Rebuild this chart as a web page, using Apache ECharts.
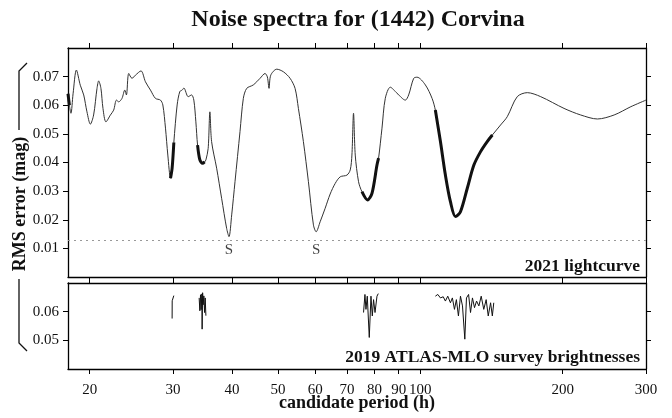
<!DOCTYPE html>
<html><head><meta charset="utf-8">
<script src="https://cdn.jsdelivr.net/npm/echarts@6/dist/echarts.min.js"></script>
<style>html,body{margin:0;padding:0;background:#fff}#c{width:672px;height:418px}</style>
</head><body><div id="c"></div>
<script>
// ---- data ----
const xTickLabels = [20, 30, 40, 50, 60, 70, 80, 90, 100, 200, 300];
const yTicksTop = [0.01, 0.02, 0.03, 0.04, 0.05, 0.06, 0.07];
const yTicksBottom = [0.05, 0.06];
const threshold = 0.013;
const sMarks = [39.41, 60.23];
// [period (h), RMS error (mag)]
const lightcurve2021 = [
  [18.0,0.0640],[18.12,0.0600],[18.26,0.0572],[18.45,0.0640],[18.75,0.0723],[19.11,0.0670],[19.43,0.0636],
  [19.74,0.0577],[20.07,0.0534],[20.39,0.0566],[20.73,0.0659],[20.90,0.0685],[21.13,0.0659],[21.34,0.0589],
  [21.65,0.0542],[22.13,0.0566],[22.48,0.0583],[22.79,0.0618],[23.04,0.0612],[23.41,0.0624],[23.73,0.0653],
  [23.92,0.0636],[24.19,0.0711],[24.58,0.0694],[24.99,0.0705],[25.68,0.0720],[26.24,0.0682],[26.89,0.0653],
  [27.55,0.0624],[28.23,0.0618],[28.56,0.0601],[28.93,0.0520],[29.26,0.0426],[29.65,0.0345],[29.88,0.0380],
  [30.13,0.0470],[30.62,0.0601],[31.02,0.0648],[31.37,0.0653],[31.64,0.0660],[32.31,0.0630],[32.85,0.0636],
  [33.21,0.0618],[33.54,0.0542],[33.82,0.0461],[34.20,0.0409],[34.66,0.0397],[35.0,0.0402],[35.22,0.0409],
  [35.61,0.0449],[35.91,0.0577],[36.21,0.0473],[37.11,0.0380],[38.02,0.0275],[38.96,0.0170],[39.41,0.0141],
  [39.93,0.0217],[40.58,0.0333],[41.58,0.0508],[42.26,0.0624],[42.96,0.0659],[44.36,0.0671],[45.84,0.0694],
  [46.97,0.0711],[47.50,0.0699],[47.89,0.0659],[48.29,0.0705],[49.73,0.0726],[51.35,0.0717],[53.06,0.0694],
  [54.36,0.0659],[55.25,0.0589],[56.61,0.0473],[58.01,0.0333],[59.44,0.0182],[60.23,0.0158],[61.42,0.0193],
  [62.93,0.0240],[64.49,0.0290],[66.09,0.0327],[67.72,0.0350],[69.98,0.0356],[71.10,0.0374],[71.69,0.0426],
  [72.25,0.0572],[72.86,0.0426],[74.04,0.0333],[75.28,0.0298],[77.36,0.0269],[79.04,0.0292],[80.99,0.0391],
  [81.62,0.0415],[82.99,0.0520],[84.33,0.0624],[86.42,0.0663],[89.29,0.0642],[92.98,0.0618],[94.49,0.0636],
  [96.83,0.0694],[98.44,0.0698],[102.5,0.0671],[105.9,0.0624],[107.6,0.0583],[110.3,0.0473],[113.0,0.0356],
  [115.8,0.0263],[118.7,0.0211],[121.6,0.0228],[125.7,0.0310],[129.8,0.0391],[134.1,0.0438],[138.5,0.0473],
  [142.0,0.0496],[147.8,0.0531],[152.7,0.0560],[160.3,0.0630],[168.4,0.0644],[179.7,0.0630],[201.3,0.0589],
  [218.3,0.0566],[236.8,0.0552],[256.9,0.0566],[278.7,0.0595],[300,0.0618]
];
const boldRanges = [[18.0,18.12],[29.65,30.13],[33.82,35.0],[75.28,81.62],[107.6,142.0]];
const atlas2019 = [
  [[29.88,0.0576],[29.89,0.0638],[30.05,0.0643],[30.13,0.0656]],
  [[34.08,0.0648],[34.20,0.0603],[34.31,0.0659],[34.41,0.0607],[34.53,0.0662],[34.58,0.0539],[34.66,0.0666],
   [34.75,0.0624],[34.87,0.0655],[34.99,0.0597],[35.10,0.0648],[35.22,0.0586]],
  [[75.86,0.0597],[76.38,0.0660],[76.76,0.0608],[77.25,0.0654],[78.01,0.0510],[78.66,0.0654],[79.17,0.0585],
   [79.66,0.0642],[80.22,0.0597],[80.99,0.0654],[81.51,0.0663]],
  [[107.6,0.0654],[108.9,0.0660],[110.3,0.0648],[111.8,0.0652],[113.0,0.0637],[114.3,0.0654],[115.8,0.0631],
   [116.9,0.0648],[118.1,0.0608],[119.2,0.0642],[120.4,0.0585],[121.6,0.0654],[122.8,0.0620],[124.2,0.0504],
   [125.2,0.0648],[126.5,0.0660],[127.7,0.0597],[128.9,0.0648],[130.2,0.0614],[131.5,0.0637],[133.0,0.0620],
   [134.5,0.0654],[136.2,0.0608],[137.8,0.0642],[139.2,0.0585],[140.8,0.0631],[142.0,0.0585],[143.0,0.0631]]
];

// ---- chart ----
const L = Math.log10;
const F = "'Liberation Serif','Times New Roman',serif";
const toXY = d => [L(d[0]), d[1]];

function xAxis(grid, pos, labels) {
  return {
    type: 'value', gridIndex: grid, position: pos, min: L(18), max: L(300),
    axisLine: { show: true, onZero: false, lineStyle: { color: '#000', width: 1.3 } },
    axisTick: { show: true, inside: false, length: 5, customValues: xTickLabels.map(L), lineStyle: { color: '#000', width: 1 } },
    axisLabel: { show: labels, customValues: xTickLabels.map(L), formatter: v => String(Math.round(Math.pow(10, v))),
      fontFamily: F, fontSize: 15, color: '#111', margin: 14 },
    splitLine: { show: false }
  };
}
function yAxis(grid, pos, min, max, ticks, labels) {
  return {
    type: 'value', gridIndex: grid, position: pos, min: min, max: max,
    axisLine: { show: true, onZero: false, lineStyle: { color: '#000', width: 1.3 } },
    axisTick: { show: true, inside: false, length: 5, customValues: ticks, lineStyle: { color: '#000', width: 1 } },
    axisLabel: { show: labels, customValues: ticks, formatter: v => v.toFixed(2),
      fontFamily: F, fontSize: 15, color: '#111', margin: 9 },
    splitLine: { show: false }
  };
}

const series = [];
series.push({
  type: 'line', xAxisIndex: 0, yAxisIndex: 0, data: lightcurve2021.map(toXY),
  showSymbol: false, smooth: 0.3, lineStyle: { color: '#333', width: 1 }, z: 3,
  markLine: { silent: true, precision: 4, symbol: ['none', 'none'], label: { show: false },
    lineStyle: { color: '#999', width: 1, type: [2, 4] }, data: [{ yAxis: threshold }] }
});
boldRanges.forEach(r => {
  series.push({
    type: 'line', xAxisIndex: 0, yAxisIndex: 0,
    data: lightcurve2021.filter(d => d[0] >= r[0] - 1e-6 && d[0] <= r[1] + 1e-6).map(toXY),
    showSymbol: false, smooth: 0.3, lineStyle: { color: '#111', width: 3 }, z: 4
  });
});
series.push({
  type: 'scatter', xAxisIndex: 0, yAxisIndex: 0, symbolSize: 0,
  data: sMarks.map(p => [L(p), 0.0094]),
  label: { show: true, position: 'inside', formatter: 'S', fontFamily: F, fontSize: 15, color: '#111' }, z: 5
});
atlas2019.forEach(seg => {
  series.push({
    type: 'line', xAxisIndex: 2, yAxisIndex: 2, data: seg.map(toXY),
    showSymbol: false, lineStyle: { color: '#111', width: 1 }, z: 3
  });
});

const chart = echarts.init(document.getElementById('c'), null, { renderer: 'canvas' });
chart.setOption({
  animation: false,
  backgroundColor: '#fff',
  grid: [
    { left: 68, right: 26, top: 48, height: 229 },
    { left: 68, right: 26, top: 283, height: 86 }
  ],
  xAxis: [xAxis(0, 'bottom', false), xAxis(0, 'top', false), xAxis(1, 'bottom', true), xAxis(1, 'top', false)],
  yAxis: [
    yAxis(0, 'left', 0, 0.08, yTicksTop, true), yAxis(0, 'right', 0, 0.08, yTicksTop, false),
    yAxis(1, 'left', 0.04, 0.07, yTicksBottom, true), yAxis(1, 'right', 0.04, 0.07, yTicksBottom, false)
  ],
  series: series,
  graphic: [
    { type: 'text', x: 358, y: 20, style: { text: 'Noise spectra for (1442) Corvina', textAlign: 'center', textVerticalAlign: 'middle',
      font: "bold 24px 'Liberation Serif', serif", fill: '#111' } },
    { type: 'text', x: 357, y: 403, style: { text: 'candidate period (h)', textAlign: 'center', textVerticalAlign: 'middle',
      font: "bold 18px 'Liberation Serif', serif", fill: '#111' } },
    { type: 'text', x: 20, y: 204, rotation: Math.PI / 2, style: { text: 'RMS error (mag)', textAlign: 'center', textVerticalAlign: 'middle',
      font: "bold 18px 'Liberation Serif', serif", fill: '#111' } },
    { type: 'text', x: 640, y: 266, style: { text: '2021 lightcurve', textAlign: 'right', textVerticalAlign: 'middle',
      font: "bold 17.5px 'Liberation Serif', serif", fill: '#111' } },
    { type: 'text', x: 640, y: 357, style: { text: '2019 ATLAS-MLO survey brightnesses', textAlign: 'right', textVerticalAlign: 'middle',
      font: "bold 17.5px 'Liberation Serif', serif", fill: '#111' } },
    { type: 'polyline', shape: { points: [[27, 63], [19, 71], [19, 130]] }, style: { stroke: '#111', lineWidth: 1.3, fill: null } },
    { type: 'polyline', shape: { points: [[19, 279], [19, 343], [27, 351]] }, style: { stroke: '#111', lineWidth: 1.3, fill: null } }
  ]
});
</script>
</body></html>
